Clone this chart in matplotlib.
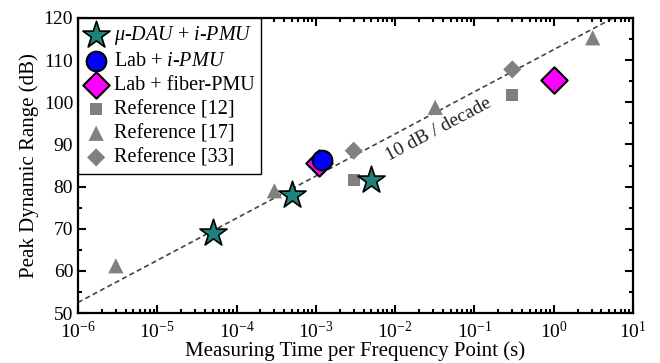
import matplotlib
matplotlib.use("Agg")
import matplotlib.pyplot as plt
import numpy as np
from matplotlib.ticker import LogLocator, MultipleLocator, LogFormatterMathtext, FixedLocator

plt.rcParams['font.family'] = ['Liberation Serif', 'DejaVu Serif']
plt.rcParams['mathtext.fontset'] = 'custom'
plt.rcParams['mathtext.rm'] = 'Liberation Serif'
plt.rcParams['mathtext.it'] = 'Liberation Serif:italic'

# Data
dau_x = [5e-5, 5e-4, 5e-3]
dau_y = [69, 78, 81.5]
lab_ipmu_x = [1.2e-3]
lab_ipmu_y = [86.3]
lab_fiber_x = [1.1e-3, 1.0]
lab_fiber_y = [85.5, 105.2]
ref12_x = [3e-3, 0.3]
ref12_y = [81.5, 101.7]
ref17_x = [3e-6, 3e-4, 0.032, 3.1]
ref17_y = [61.2, 79.0, 98.8, 115.3]
ref33_x = [3e-3, 0.3]
ref33_y = [88.5, 107.8]
trend_x = [1e-6, 10]
trend_y = [52.5, 122.5]
x_ticks = [1e-6, 1e-5, 1e-4, 1e-3, 1e-2, 1e-1, 1e0, 1e1]

fig = plt.figure(figsize=(6.6, 3.63), dpi=100)
ax = fig.add_axes([78/660, 1-313/363, 555/660, 295/363])

ax.plot(trend_x, trend_y, ls=(0, (3, 2)), color='#444444', lw=1.2, zorder=1)

gray = '#808080'
ax.scatter(ref12_x, ref12_y, marker='s', s=75, color=gray, edgecolors='none', label='Reference [12]', zorder=2)
ax.scatter(ref17_x, ref17_y, marker='^', s=120, color=gray, edgecolors='none', label='Reference [17]', zorder=2)
ax.scatter(ref33_x, ref33_y, marker='D', s=85, color=gray, edgecolors='none', label='Reference [33]', zorder=2)
ax.scatter(lab_fiber_x, lab_fiber_y, marker='D', s=180, color='#ff00ff', edgecolors='black', linewidths=1.5, label='Lab + fiber-PMU', zorder=3)
ax.scatter(lab_ipmu_x, lab_ipmu_y, marker='o', s=200, color='#0000ff', edgecolors='black', linewidths=1.5, label='Lab + $\\mathit{i}$-$\\mathit{PMU}$', zorder=4)
ax.scatter(dau_x, dau_y, marker='*', s=420, color='#1f827c', edgecolors='black', linewidths=1.2, label='$\\mathit{\\mu}$-$\\mathit{DAU}$ + $\\mathit{i}$-$\\mathit{PMU}$', zorder=5)

ax.text(0.035, 93.5, '10 dB / decade', rotation=28, ha='center', va='center', fontsize=14, color='#222222')

ax.set_xscale('log')
ax.set_xlim(1e-6, 10)
ax.set_ylim(50, 120)
ax.xaxis.set_major_locator(FixedLocator(x_ticks))
ax.xaxis.set_minor_locator(LogLocator(base=10, subs=np.arange(2, 10), numticks=20))
ax.xaxis.set_major_formatter(LogFormatterMathtext())
ax.yaxis.set_major_locator(MultipleLocator(10))
ax.yaxis.set_minor_locator(MultipleLocator(5))

ax.tick_params(which='both', direction='in', top=True, right=True, width=1.5, labelsize=14)
ax.tick_params(which='major', length=6)
ax.tick_params(which='minor', length=3)
ax.tick_params(axis='x', which='major', pad=6)
for s in ax.spines.values():
    s.set_linewidth(1.6)

ax.set_xlabel('Measuring Time per Frequency Point (s)', fontsize=15, labelpad=-1)
ax.set_ylabel('Peak Dynamic Range (dB)', fontsize=15, labelpad=3)

handles, labels = ax.get_legend_handles_labels()
order = [5, 4, 3, 0, 1, 2]
leg = ax.legend([handles[i] for i in order], [labels[i] for i in order], loc='upper left',
                fontsize=14.5, frameon=True, fancybox=False, edgecolor='black', framealpha=1,
                borderaxespad=0, handletextpad=0.3, labelspacing=0.25, borderpad=0.3, handlelength=1.2)
leg.get_frame().set_linewidth(1.0)

fig.savefig('out.png', dpi=100)
